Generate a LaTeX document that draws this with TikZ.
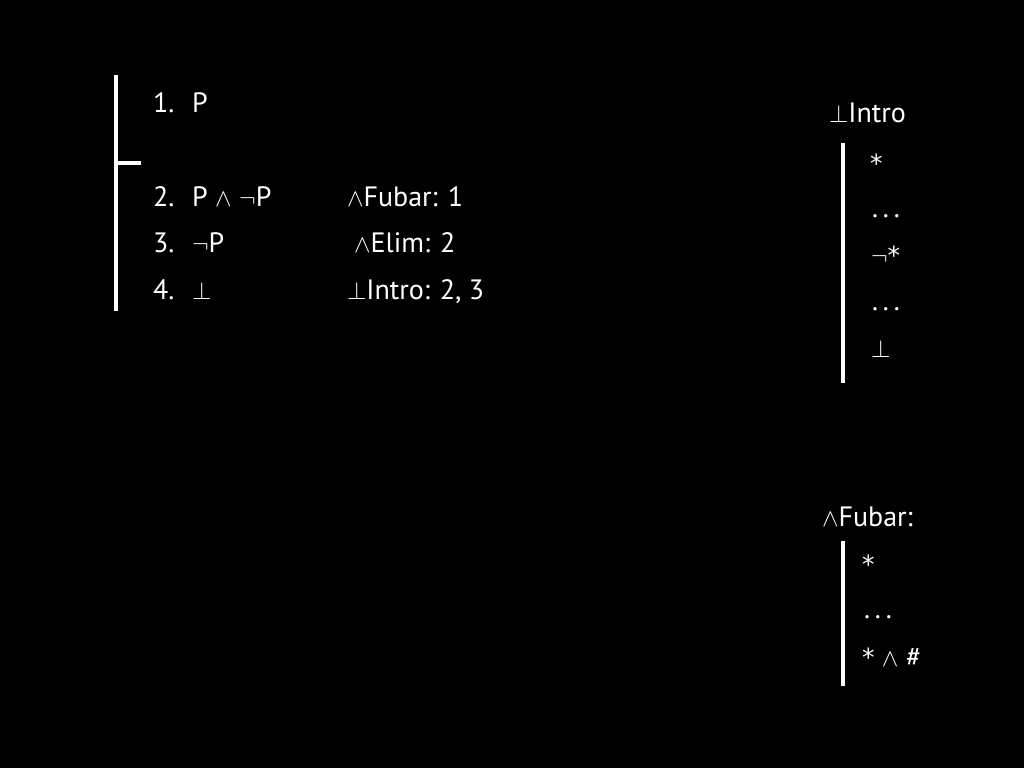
\documentclass[tikz,border=0pt]{standalone}
\usepackage{fontspec}
\setmainfont{PT Sans}
\newfontfamily\starfont{DejaVu Sans}
\newcommand{\str}{{\starfont\fontsize{25}{30}\selectfont*}}
\newcommand{\dts}{.\kern5pt.\kern5pt.}
\begin{document}
\begin{tikzpicture}[x=1pt, y=-1pt, line width=4pt]
\tikzstyle{text_style} = [anchor=base west, inner sep=0pt, text=white, font=\fontsize{28}{33}\selectfont]
\tikzstyle{bar_style} = [draw=white, line width=4pt]

\fill[black] (0,0) rectangle (1024,768);
\useasboundingbox (0,0) rectangle (1024,768);

% proof
\node[text_style] (n1) at (151,112) {1.};
\node[text_style] (n2) at (151,206) {2.};
\node[text_style] (n3) at (151,252) {3.};
\node[text_style] (n4) at (151,299) {4.};

\node[text_style] (f1) at (190,112) {P};
\node[text_style] (f2) at (190,206) {P $\wedge$ $\neg$P};
\node[text_style] (f3) at (190,252) {$\neg$P};
\node[text_style] (f4) at (190,299) {$\bot$};

\node[text_style] (j2) at (345,206) {$\wedge$Fubar: 1};
\node[text_style] (j3) at (352,252) {$\wedge$Elim: 2};
\node[text_style] (j4) at (345,299) {$\bot$Intro: 2, 3};

\coordinate (b1) at (116,75);
\coordinate (b2) at (116,311);
\coordinate (t1) at (116,163);
\coordinate (t2) at (141,163);
\draw[bar_style] (b1) -- (b2);
\draw[bar_style] (t1) -- (t2);

% bot intro rule
\node[text_style] (r1) at (827,122) {$\bot$Intro};
\node[text_style] (r1a) at (868,172) {\str};
\node[text_style] (r1b) at (870,217) {\dts};
\node[text_style] (r1c) at (869,264) {$\neg$\str};
\node[text_style] (r1d) at (870,310) {\dts};
\node[text_style] (r1e) at (869,357) {$\bot$};
\coordinate (c1) at (843,143);
\coordinate (c2) at (843,383);
\draw[bar_style] (c1) -- (c2);

% and fubar rule
\node[text_style] (r2) at (820,526) {$\wedge$Fubar:};
\node[text_style] (r2a) at (860,573) {\str};
\node[text_style] (r2b) at (862,618) {\dts};
\node[text_style] (r2c) at (860,666) {\str{} $\wedge$ \#};
\coordinate (d1) at (843,541);
\coordinate (d2) at (843,686);
\draw[bar_style] (d1) -- (d2);
\end{tikzpicture}
\end{document}
